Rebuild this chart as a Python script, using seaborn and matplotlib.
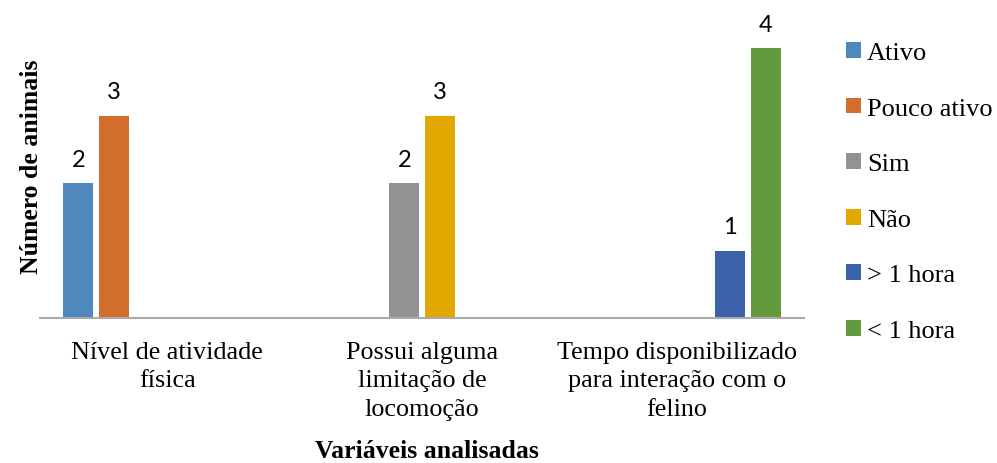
import matplotlib
matplotlib.use("Agg")
import matplotlib.pyplot as plt
from matplotlib.font_manager import FontProperties
import seaborn as sns
import pandas as pd

categories = ["Nível de atividade\nfísica",
              "Possui alguma\nlimitação de\nlocomoção",
              "Tempo disponibilizado\npara interação com o\nfelino"]
series = ["Ativo", "Pouco ativo", "Sim", "Não", "> 1 hora", "< 1 hora"]
# values per series for each category (0 = not applicable)
ativo = [2, 0, 0]
pouco_ativo = [3, 0, 0]
sim = [0, 2, 0]
nao = [0, 3, 0]
mais_1h = [0, 0, 1]
menos_1h = [0, 0, 4]
colors = ["#4F88BC", "#D36D2B", "#929292", "#E1A800", "#3D62AC", "#63993D"]

series_values = [ativo, pouco_ativo, sim, nao, mais_1h, menos_1h]
rows = []
for s, vals in zip(series, series_values):
    for c, v in zip(categories, vals):
        rows.append({"cat": c, "serie": s, "valor": v})
df = pd.DataFrame(rows)

sns.set_theme(style="white")
serif = ["Liberation Serif", "DejaVu Serif"]
plt.rcParams["font.family"] = serif
plt.rcParams["font.serif"] = ["Liberation Serif", "DejaVu Serif"]
plt.rcParams["text.color"] = "#000000"
plt.rcParams["xtick.color"] = "#000000"
plt.rcParams["xtick.labelcolor"] = "#000000"

W, H = 997, 464
fig = plt.figure(figsize=(W / 100, H / 100), dpi=100)
ax_left, ax_right, ax_top, ax_bottom = 40, 804, 49, 319
ax = fig.add_axes([ax_left / W, (H - ax_bottom) / H,
                   (ax_right - ax_left) / W, (ax_bottom - ax_top) / H])

sns.barplot(data=df, x="cat", y="valor", hue="serie", order=categories,
            hue_order=series, palette=colors, saturation=1, width=0.838,
            gap=0.16, linewidth=0, errorbar=None, ax=ax)

ax.set_ylim(0, 4)
ax.set_xlim(-0.5, 2.5)
for cont in ax.containers:
    labels = [f"{v:g}" if v > 0 else "" for v in cont.datavalues]
    ax.bar_label(cont, labels=labels, padding=9.5, fontsize=17,
                 family=["Lato", "DejaVu Sans"], color="#000000", clip_on=False)

for side in ["left", "right", "top"]:
    ax.spines[side].set_visible(False)
ax.spines["bottom"].set_color("#ABABAB")
ax.spines["bottom"].set_linewidth(1.5)
ax.set_yticks([])
ax.tick_params(axis="x", length=0, pad=16.5)
ax.set_xticks(range(len(categories)))
ax.set_xticklabels(categories)
tick_fp = FontProperties(family="Liberation Serif", size=18.8)
for t in ax.get_xticklabels():
    t.set_fontproperties(tick_fp)
    t.set_linespacing(1.375)
    t.set_color("#000000")
ax.set_xlabel("")
ax.set_ylabel("")

fig.text(31 / W, (H - 167) / H, "Número de animais", rotation=90,
         ha="center", va="center", fontsize=18.5, fontweight="bold",
         family=serif, color="#000000")
fig.text(427 / W, (H - 458) / H, "Variáveis analisadas",
         ha="center", va="baseline", fontsize=18.5, fontweight="bold",
         family=serif, color="#000000")

leg = ax.legend(loc="upper left", bbox_to_anchor=(846 / W, (H - 43) / H),
                bbox_transform=fig.transFigure, frameon=False,
                prop={"family": serif, "size": 19},
                handlelength=0.55, handleheight=0.55, handletextpad=0.25,
                labelspacing=1.26, borderpad=0, borderaxespad=0)
for t in leg.get_texts():
    t.set_color("#000000")

fig.savefig("out.png", dpi=100)
